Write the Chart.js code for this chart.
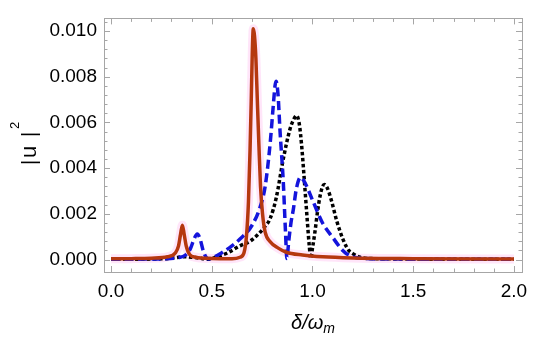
<!DOCTYPE html>
<html>
<head>
<meta charset="utf-8">
<script src="https://cdn.jsdelivr.net/npm/chart.js@4.4.1/dist/chart.umd.min.js"></script>
<style>
  html, body { margin: 0; padding: 0; background: #fff; }
  #wrap { width: 550px; height: 343px; }
</style>
</head>
<body>
<div id="wrap"><canvas id="c" width="550" height="343"></canvas></div>
<script>
// ---- data ----
const redX = [0.00, 0.10, 0.20, 0.28, 0.32, 0.335, 0.345, 0.354, 0.363, 0.373, 0.39, 0.42, 0.50, 0.60, 0.64, 0.66, 0.672, 0.682, 0.690, 0.696, 0.701, 0.706, 0.712, 0.719, 0.726, 0.734, 0.742, 0.752, 0.765, 0.79, 0.83, 0.87, 0.95, 1.05, 1.20, 1.50, 2.00];
const redY = [0.00003, 0.00004, 0.00006, 0.00012, 0.0003, 0.0006, 0.0011, 0.0015, 0.0011, 0.0006, 0.00022, 0.0001, 0.00005, 0.00004, 0.0001, 0.0003, 0.0010, 0.0025, 0.0048, 0.0070, 0.0090, 0.0101, 0.0098, 0.0088, 0.0070, 0.0050, 0.0032, 0.0020, 0.0012, 0.00078, 0.0005, 0.00032, 0.0002, 0.00012, 0.00007, 0.00004, 0.00002];

const blueX = [0.00, 0.25, 0.33, 0.37, 0.395, 0.412, 0.428, 0.442, 0.457, 0.472, 0.485, 0.50, 0.55, 0.60, 0.64, 0.70, 0.74, 0.765, 0.79, 0.805, 0.814, 0.819, 0.829, 0.839, 0.855, 0.866, 0.873, 0.882, 0.893, 0.905, 0.92, 0.941, 0.96, 1.00, 1.05, 1.10, 1.15, 1.19, 1.25, 1.40, 2.00];
const blueY = [0.00001, 0.00003, 0.00008, 0.0002, 0.0005, 0.0009, 0.00112, 0.0009, 0.0004, 0.0001, 0.00002, 0.00006, 0.0003, 0.0006, 0.0009, 0.0015, 0.0023, 0.0032, 0.0051, 0.0067, 0.0076, 0.0078, 0.0072, 0.0056, 0.0034, 0.0012, 0.00005, 0.0008, 0.0016, 0.0022, 0.0031, 0.0036, 0.0034, 0.0026, 0.0016, 0.00097, 0.0004, 0.00015, 0.00005, 0.00002, 0.00001];

const blackX = [0.00, 0.25, 0.32, 0.36, 0.40, 0.45, 0.48, 0.52, 0.58, 0.64, 0.69, 0.73, 0.76, 0.79, 0.82, 0.855, 0.888, 0.905, 0.921, 0.935, 0.946, 0.955, 0.965, 0.975, 0.984, 0.991, 1.000, 1.012, 1.025, 1.038, 1.050, 1.060, 1.075, 1.095, 1.12, 1.153, 1.18, 1.20, 1.236, 1.30, 2.00];
const blackY = [0.00001, 0.00003, 0.00008, 0.00012, 0.0001, 0.00005, 0.00001, 0.0001, 0.0003, 0.0006, 0.0008, 0.0011, 0.0014, 0.0018, 0.0027, 0.0044, 0.0057, 0.0061, 0.0063, 0.0059, 0.0050, 0.0040, 0.0028, 0.0016, 0.0006, 0.00005, 0.0005, 0.0012, 0.0021, 0.0028, 0.0032, 0.00328, 0.0031, 0.00255, 0.0017, 0.00085, 0.0004, 0.00026, 0.0001, 0.00004, 0.00001];

const xTickValues = [0, 0.5, 1.0, 1.5, 2.0];
const yTickValues = [0, 0.002, 0.004, 0.006, 0.008, 0.010];

// ---- helpers ----
function pts(xs, ys) { return xs.map((x, i) => ({ x: x, y: ys[i] })); }
const FONT = '"Liberation Sans", Arial, Helvetica, sans-serif';

const frameAndTicks = {
  id: 'frameAndTicks',
  afterDatasetsDraw(chart) {
    const ctx = chart.ctx, a = chart.chartArea;
    const xs = chart.scales.x, ys = chart.scales.y;
    ctx.save();
    ctx.strokeStyle = '#a6a6a6';
    ctx.lineWidth = 1;
    for (let i = 0; i <= 20; i++) {
      const v = i / 10;
      const px = Math.round(xs.getPixelForValue(v)) + 0.5;
      const len = (i % 5 === 0) ? 6 : 3.5;
      ctx.beginPath();
      ctx.moveTo(px, a.bottom); ctx.lineTo(px, a.bottom - len);
      ctx.moveTo(px, a.top); ctx.lineTo(px, a.top + len);
      ctx.stroke();
    }
    for (let i = 0; i <= 26; i++) {
      const v = i * 0.0004;
      const py = Math.round(ys.getPixelForValue(v)) + 0.5;
      const len = (i % 5 === 0) ? 6 : 3.5;
      ctx.beginPath();
      ctx.moveTo(a.left, py); ctx.lineTo(a.left + len, py);
      ctx.moveTo(a.right, py); ctx.lineTo(a.right - len, py);
      ctx.stroke();
    }
    ctx.strokeRect(Math.round(a.left) + 0.5, Math.round(a.top) + 0.5,
                   Math.round(a.right - a.left), Math.round(a.bottom - a.top));
    ctx.restore();
  },
  afterDraw(chart) {
    const ctx = chart.ctx;
    ctx.save();
    ctx.fillStyle = '#000';
    ctx.textBaseline = 'alphabetic';
    ctx.textAlign = 'left';
    ctx.font = 'italic 20px ' + FONT;
    const main = 'δ/ω';
    const wMain = ctx.measureText(main).width;
    ctx.font = 'italic 14px ' + FONT;
    const wSub = ctx.measureText('m').width;
    const x0 = 313 - (wMain + wSub) / 2;
    ctx.font = 'italic 20px ' + FONT;
    ctx.fillText(main, x0, 329);
    ctx.font = 'italic 14px ' + FONT;
    ctx.fillText('m', x0 + wMain, 333);
    // y-axis title |u|^2 (rotated)
    ctx.translate(36, 165);
    ctx.rotate(-Math.PI / 2);
    ctx.font = '20px ' + FONT;
    ctx.fillText('|', 0, 0);
    ctx.font = '22px ' + FONT;
    ctx.fillText('u', 7, 0);
    ctx.font = '20px ' + FONT;
    ctx.fillText('|', 28, 0);
    ctx.font = '13px ' + FONT;
    ctx.fillText('2', 36, -17);
    ctx.restore();
  }
};

const chart = new Chart(document.getElementById('c'), {
  type: 'line',
  data: {
    datasets: [
      { label: 'red', data: pts(redX, redY), borderColor: '#b5380f', borderWidth: 3.5,
        pointRadius: 0, fill: false, cubicInterpolationMode: 'monotone' },
      { label: 'blue', data: pts(blueX, blueY), borderColor: '#1414dc', borderWidth: 3.5,
        borderDash: [9, 4.5], pointRadius: 0, fill: false, cubicInterpolationMode: 'monotone' },
      { label: 'black', data: pts(blackX, blackY), borderColor: '#000000', borderWidth: 3.5,
        borderDash: [3.5, 2.5], pointRadius: 0, fill: false, cubicInterpolationMode: 'monotone' },
      { label: 'halo', data: pts(redX, redY), borderColor: 'rgba(255,170,235,0.3)', borderWidth: 9,
        pointRadius: 0, fill: false, cubicInterpolationMode: 'monotone' }
    ]
  },
  options: {
    responsive: false,
    animation: false,
    devicePixelRatio: 1,
    layout: { padding: { top: 14, right: 28, left: 0, bottom: 0 } },
    plugins: { legend: { display: false }, tooltip: { enabled: false } },
    scales: {
      x: {
        type: 'linear', min: -0.035, max: 2.04,
        grid: { display: false, drawTicks: false },
        border: { display: false },
        afterBuildTicks: (s) => { s.ticks = xTickValues.map(v => ({ value: v })); },
        afterFit: (s) => { s.height = 71; },
        ticks: { color: '#000', font: { size: 19, family: FONT }, padding: 8,
                 maxRotation: 0, autoSkip: false,
                 callback: (v) => Number(v).toFixed(1) }
      },
      y: {
        type: 'linear', min: -0.000545, max: 0.01055,
        grid: { display: false, drawTicks: false },
        border: { display: false },
        afterBuildTicks: (s) => { s.ticks = yTickValues.map(v => ({ value: v })); },
        afterFit: (s) => { s.width = 104; },
        ticks: { color: '#000', font: { size: 19, family: FONT }, padding: 7,
                 autoSkip: false,
                 callback: (v) => Number(v).toFixed(3) }
      }
    }
  },
  plugins: [frameAndTicks]
});
</script>
</body>
</html>
